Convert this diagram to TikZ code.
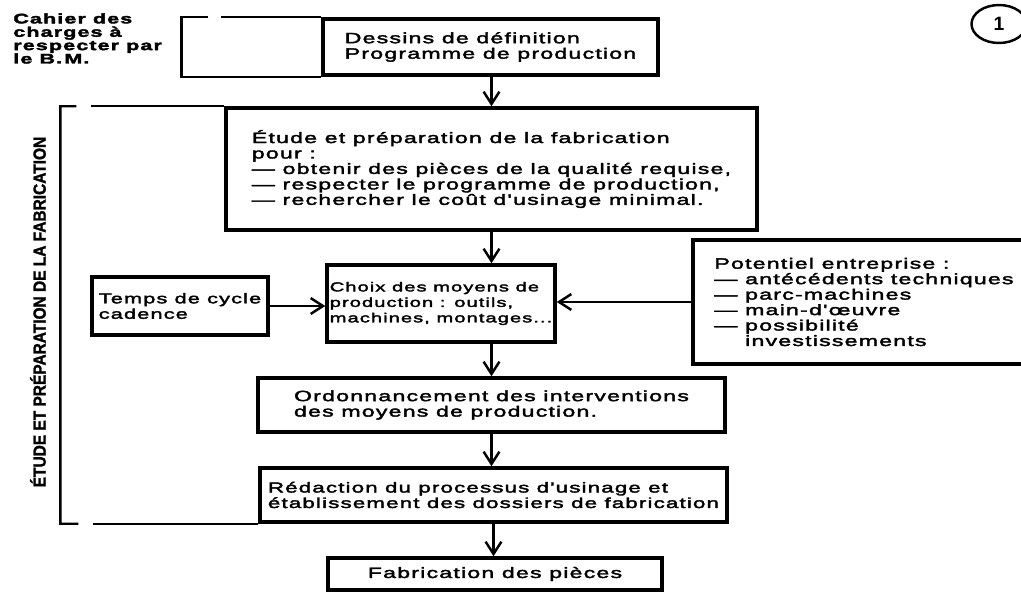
\documentclass[tikz,border=0pt]{standalone}
\usepackage{fontspec}
\setmainfont{Liberation Sans}
\newfontfamily\boxfont[FakeStretch=1.55, LetterSpace=8, FakeBold=2.5]{Liberation Sans}
\newfontfamily\phasefont[FakeStretch=0.88, FakeBold=1.5]{Liberation Sans}
\newcommand\boxtext{\boxfont\fontsize{8.5pt}{8.8pt}\selectfont}
\usetikzlibrary{arrows.meta, shapes.geometric}

\begin{document}
\begin{tikzpicture}[
  x=0.02cm, y=-0.02cm,
  box/.style={draw, line width=2pt, align=left, inner sep=0pt, font=\boxtext},
  arr/.style={-{Straight Barb[length=7pt, width=9pt, line width=1.4pt]}, line width=1.4pt},
  brk/.style={line width=1.4pt}
]
  \useasboundingbox (0,0) rectangle (1021,592);

  % boxes of the flow
  \node[box, minimum width=6.7cm, minimum height=1.12cm] (dessins) at (490.5,47)
    {Dessins de définition\\Programme de production};
  \node[box, minimum width=10.62cm, minimum height=2.44cm] (etude) at (491.5,169)
    {Étude et préparation de la fabrication\\pour~:\\— obtenir des pièces de la qualité requise,\\— respecter le programme de production,\\— rechercher le coût d'usinage minimal.};
  \node[box, minimum width=4.56cm, minimum height=1.54cm,
        font=\boxfont\fontsize{7.4pt}{8.8pt}\selectfont] (choix) at (441,303.5)
    {Choix des moyens de\\production~: outils,\\machines, montages...};
  \node[box, minimum width=3.52cm, minimum height=1.16cm,
        font=\boxfont\fontsize{8pt}{8.8pt}\selectfont] (temps) at (180,306)
    {Temps de cycle\\cadence};
  \node[box, minimum width=6.84cm, minimum height=2.48cm] (potentiel) at (864,302)
    {Potentiel entreprise~:\\— antécédents techniques\\— parc-machines\\— main-d'œuvre\\— possibilité\\\phantom{— }investissements};
  \node[box, minimum width=9.34cm, minimum height=1.08cm] (ordo) at (491.5,405)
    {Ordonnancement des interventions\\des moyens de production.};
  \node[box, minimum width=9.34cm, minimum height=1.08cm,
        font=\boxfont\fontsize{8.2pt}{8.8pt}\selectfont] (redac) at (493.5,495)
    {Rédaction du processus d'usinage et\\établissement des dossiers de fabrication};
  \node[box, minimum width=6.68cm, minimum height=0.64cm] (fab) at (495,574)
    {Fabrication des pièces};

  % side labels
  \node[anchor=north west, align=left, inner sep=0pt,
        font=\boxfont\fontsize{7.9pt}{7.6pt}\selectfont\bfseries] (cahier) at (13,13)
    {Cahier des\\charges à\\respecter par\\le B.\,M.};
  \node[rotate=90, inner sep=0pt, font=\phasefont\fontsize{10pt}{10pt}\selectfont\bfseries] (phase) at (38,312)
    {ÉTUDE ET PRÉPARATION DE LA FABRICATION};
  \node[draw, ellipse, line width=1.4pt, minimum width=1.1cm, minimum height=0.76cm,
        inner sep=0pt, font=\fontsize{11pt}{11pt}\selectfont\bfseries] (num) at (999,24) {1};

  % brackets
  \path (dessins.north west) ++(-140,0) coordinate (tl0);
  \draw[brk] (dessins.north west) -- ++(-100,0);
  \draw[brk] (tl0) ++(27,0) -- (tl0) |- (dessins.south west);
  \path (etude.north west) ++(-164,0) coordinate (tl);
  \path (redac.south west) ++(-198,0) coordinate (bl);
  \draw[brk] (tl) ++(16,0) -- (tl) -- (bl) -- ++(18,0);
  \draw[brk] (tl) ++(31,0) -- (etude.north west);
  \draw[brk] (bl) ++(33,0) -- (redac.south west);

  % arrows
  \draw[arr] (dessins.south -| etude.north) -- (etude.north);
  \draw[arr] (etude.south) -- (etude.south |- choix.north);
  \draw[arr] (temps.east) -- (temps.east -| choix.west);
  \draw[arr] (potentiel.west) -- (potentiel.west -| choix.east);
  \draw[arr] (ordo.north |- choix.south) -- (ordo.north);
  \draw[arr] (ordo.south) -- (ordo.south |- redac.north);
  \draw[arr] (redac.south) -- (redac.south |- fab.north);
\end{tikzpicture}
\end{document}
